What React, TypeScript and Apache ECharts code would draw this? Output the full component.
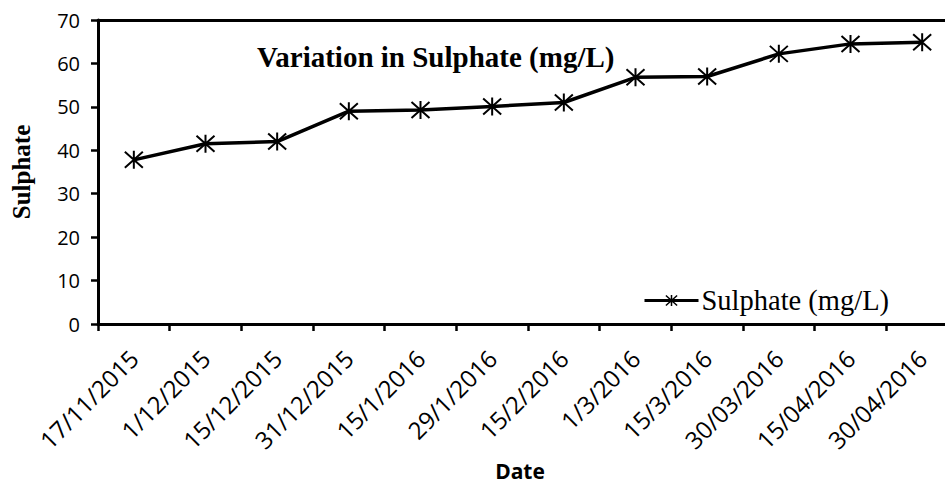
import React, { useEffect, useRef } from "react";
import * as echarts from "echarts";

const categories = [
  "17/11/2015", "1/12/2015", "15/12/2015", "31/12/2015", "15/1/2016", "29/1/2016",
  "15/2/2016", "1/3/2016", "15/3/2016", "30/03/2016", "15/04/2016", "30/04/2016",
];
const sulphate = [37.8, 41.5, 42.0, 49.0, 49.3, 50.1, 51.0, 56.8, 57.0, 62.2, 64.5, 64.9];
const seriesName = "Sulphate (mg/L)";
const titleText = "Variation in Sulphate (mg/L)";
const yName = "Sulphate";
const xName = "Date";

const asterisk = "path://M0,1L18,17M18,1L0,17M9,0L9,18";

export default function App() {
  const ref = useRef<HTMLDivElement>(null);
  useEffect(() => {
    if (!ref.current) return;
    const chart = echarts.init(ref.current, undefined, { renderer: "svg" });
    chart.setOption({
      animation: false,
      backgroundColor: "#fff",
      title: {
        text: titleText,
        left: 257,
        top: 42,
        padding: 0,
        textStyle: { fontFamily: "Liberation Serif", fontWeight: "bold", fontSize: 29, color: "#000" },
      },
      legend: {
        left: 643,
        top: 286,
        padding: 0,
        itemWidth: 54,
        itemHeight: 14,
        itemGap: 0,
        lineStyle: { color: "#000", width: 3 },
        itemStyle: { color: "rgba(0,0,0,0)", borderColor: "#000", borderWidth: 1.5 },
        textStyle: { fontFamily: "Liberation Serif", fontSize: 28.5, color: "#000", padding: [0, 0, 0, -2] },
        data: [seriesName],
      },
      grid: { left: 98, top: 20, right: -13, bottom: 159, containLabel: false, outerBoundsMode: "none" },
      xAxis: [
        {
          type: "category",
          data: categories,
          boundaryGap: true,
          name: xName,
          nameLocation: "middle",
          nameGap: 136,
          nameTextStyle: {
            fontFamily: "Open Sans",
            fontWeight: "bold",
            fontSize: 21,
            color: "#000",
            padding: [0, 16, 0, 0],
          },
          axisLine: { lineStyle: { color: "#000", width: 3 } },
          axisTick: { show: true, length: 7, lineStyle: { color: "#000", width: 2.5 } },
          axisLabel: { rotate: 45, margin: 30, fontFamily: "Open Sans", fontSize: 24, color: "#000", interval: 0 },
        },
        {
          type: "category",
          data: categories,
          position: "top",
          axisLine: { lineStyle: { color: "#000", width: 3 } },
          axisTick: { show: false },
          axisLabel: { show: false },
        },
      ],
      yAxis: {
        type: "value",
        min: 0,
        max: 70,
        interval: 10,
        name: yName,
        nameLocation: "middle",
        nameGap: 64,
        nameTextStyle: { fontFamily: "Liberation Serif", fontWeight: "bold", fontSize: 25, color: "#000" },
        axisLine: { show: true, lineStyle: { color: "#000", width: 3 } },
        axisTick: { show: true, length: 7, lineStyle: { color: "#000", width: 2.5 } },
        splitLine: { show: false },
        axisLabel: { margin: 18, fontFamily: "Open Sans", fontSize: 20, color: "#000" },
      },
      series: [
        {
          name: seriesName,
          type: "line",
          data: sulphate,
          symbol: asterisk,
          symbolSize: 18,
          lineStyle: { color: "#000", width: 3.5 },
          itemStyle: { color: "rgba(0,0,0,0)", borderColor: "#000", borderWidth: 2 },
        },
      ],
    });
    return () => chart.dispose();
  }, []);
  return (
    <div
      ref={ref}
      style={{ position: "absolute", left: 0, top: 0, width: 945, height: 483 }}
    />
  );
}
